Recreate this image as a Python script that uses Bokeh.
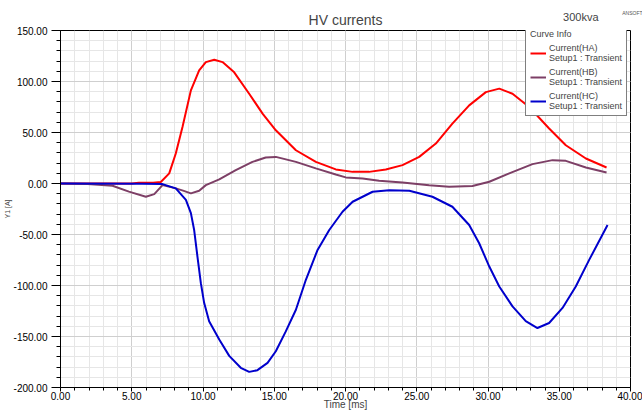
from bokeh.plotting import figure
from bokeh.models import (SingleIntervalTicker, NumeralTickFormatter, Legend,
                          LegendItem, Range1d, Title)
from bokeh.embed import file_html
from bokeh.resources import INLINE

# ---- data ----
t_ha = [0, 5.0, 5.5, 6.5, 7.04, 7.63, 8.09, 8.56, 9.15, 9.73, 10.2, 10.79, 11.37, 12.19,
        13.24, 14.18, 15.11, 16.52, 17.92, 19.32, 20.5, 21.65, 22.83, 24.0, 25.17, 26.34,
        27.5, 28.68, 29.85, 30.79, 31.72, 32.89, 34.29, 35.46, 36.87, 38.32]
i_ha = [0, 0, 0.8, 0.8, 1.5, 9.9, 29.4, 55.4, 91.3, 110.8, 119, 121.3, 119, 109,
        88, 68.5, 52.2, 32.6, 21.2, 13.8, 11.4, 11.4, 13.8, 18, 26.1, 39.2,
        58.7, 76.6, 89.6, 93, 88, 75, 53.9, 37.5, 24.5, 15.7]

t_hb = [0, 1.9, 3.65, 4.8, 5.99, 6.58, 7.16, 8.09, 8.6, 9.15, 9.73, 10.2, 11.14, 12.3,
        13.47, 14.4, 15.11, 16.52, 17.92, 19.32, 20.02, 21.2, 22.36, 24.0, 25.87, 27.27,
        28.91, 30.09, 31.49, 33.12, 34.53, 35.46, 36.87, 38.32]
i_hb = [0, -0.5, -2.2, -8, -13, -10.4, -1.6, -4.8, -7, -9.7, -7.1, -1.6, 4, 13.1,
        21.2, 25.5, 26.1, 21.2, 14.8, 8.9, 6, 5, 2.6, 1, -1.6, -3.2,
        -2.5, 1.7, 9.9, 19, 22.9, 22.2, 15.7, 10.8]

t_hc = [0, 5.75, 7.16, 8.09, 8.8, 9.15, 9.38, 9.61, 9.85, 10.08, 10.43, 11.14, 11.84,
        12.65, 13.24, 13.82, 14.53, 15.11, 15.81, 16.52, 17.22, 18.04, 18.86, 19.79,
        20.5, 21.9, 23.07, 24.48, 26.1, 27.5, 28.68, 29.38, 30.09, 30.79, 31.72, 32.65,
        33.47, 34.29, 35.23, 36.16, 37.1, 38.39]
i_hc = [0, -0.3, -0.6, -4.8, -16, -29, -45.6, -71.6, -97.7, -117, -135, -153, -169,
        -180.7, -184.7, -183, -175.9, -164.5, -145, -123.8, -94.4, -65.1, -45.6, -27.7,
        -17.9, -8.1, -6.5, -7.1, -13, -22.8, -40.7, -58.6, -81.4, -101, -120.5, -135,
        -141.7, -136.8, -122, -101, -74.9, -40.7]

series_names = ["Current(HA)", "Current(HB)", "Current(HC)"]
setup_label = "Setup1 : Transient"
FONT = "Liberation Sans"

p = figure(width=642, height=412, output_backend="svg", toolbar_location=None,
           x_range=Range1d(0, 40), y_range=Range1d(-200, 150),
           min_border_left=58, min_border_right=12, min_border_top=30, min_border_bottom=24)

# outermost title row: the small "ANSOFT" logo text at the top-right corner
p.title.text = "ANSOFT"
p.title.align = "right"
p.title.offset = -12
p.title.text_font = FONT
p.title.text_font_size = "5px"
p.title.text_font_style = "normal"
p.title.text_color = "#555555"
p.title.standoff = -28

# "300kva" (inner panel next to the frame)
sub = Title(text="300kva", align="right", offset=32, text_font=FONT,
            text_font_size="11px", text_font_style="normal", standoff=15)
p.add_layout(sub, "above")

# main title, drawn down into the same row
main = Title(text="HV currents", align="center", text_font=FONT,
             text_font_size="14px", text_font_style="normal", standoff=-52)
p.add_layout(main, "above")

p.outline_line_color = "black"
p.outline_line_width = 1
p.background_fill_color = "white"

# axes
p.xaxis.ticker = SingleIntervalTicker(interval=5, num_minor_ticks=5)
p.yaxis.ticker = SingleIntervalTicker(interval=50, num_minor_ticks=5)
p.xaxis.formatter = NumeralTickFormatter(format="0.00")
p.yaxis.formatter = NumeralTickFormatter(format="0.00")
for ax in (p.xaxis[0], p.yaxis[0]):
    ax.major_label_text_font = FONT
    ax.major_label_text_font_size = "10px"
    ax.major_label_text_color = "black"
    ax.axis_line_color = "black"
    ax.major_tick_line_color = "black"
    ax.minor_tick_line_color = "black"
    ax.major_tick_in = 0
    ax.minor_tick_in = 0
    ax.axis_label_text_font = FONT
    ax.axis_label_text_font_style = "normal"
p.yaxis.major_tick_out = 9
p.yaxis.minor_tick_out = 4
p.xaxis.major_tick_out = 4
p.xaxis.minor_tick_out = 3
p.xaxis.major_label_standoff = 0
p.yaxis.major_label_standoff = 4
p.xaxis.axis_label = "Time [ms]"
p.xaxis.axis_label_text_font_size = "10px"
p.xaxis.axis_label_standoff = -4
p.yaxis.axis_label = "Y1 [A]"
p.yaxis.axis_label_text_font_size = "7px"
p.yaxis.axis_label_standoff = 0

# grid
p.xgrid.ticker = SingleIntervalTicker(interval=5, num_minor_ticks=5)
p.ygrid.ticker = SingleIntervalTicker(interval=50, num_minor_ticks=5)
for g in (p.xgrid[0], p.ygrid[0]):
    g.grid_line_color = "#cfcfcf"
    g.grid_line_width = 1
    g.minor_grid_line_color = "#e6e6e6"
    g.minor_grid_line_width = 1

colors = ["#ff0000", "#7d3f66", "#0000cc"]
r1 = p.line(t_ha, i_ha, line_color=colors[0], line_width=2)
r2 = p.line(t_hb, i_hb, line_color=colors[1], line_width=2)
r3 = p.line(t_hc, i_hc, line_color=colors[2], line_width=2)

legend = Legend(items=[LegendItem(label=series_names[0] + "\n" + setup_label, renderers=[r1]),
                       LegendItem(label=series_names[1] + "\n" + setup_label, renderers=[r2]),
                       LegendItem(label=series_names[2] + "\n" + setup_label, renderers=[r3])],
                title="Curve Info", location=(465, 271))
legend.title_text_font = FONT
legend.title_text_font_size = "9px"
legend.title_text_font_style = "normal"
legend.label_text_font = FONT
legend.label_text_font_size = "9px"
legend.border_line_color = "black"
legend.border_line_width = 1
legend.background_fill_color = "white"
legend.background_fill_alpha = 1
legend.glyph_width = 16
legend.glyph_height = 10
legend.label_standoff = 3
legend.spacing = 4
legend.padding = 4
legend.margin = 0
legend.title_standoff = 4
p.add_layout(legend)

open("out.html", "w").write(file_html(p, INLINE))
